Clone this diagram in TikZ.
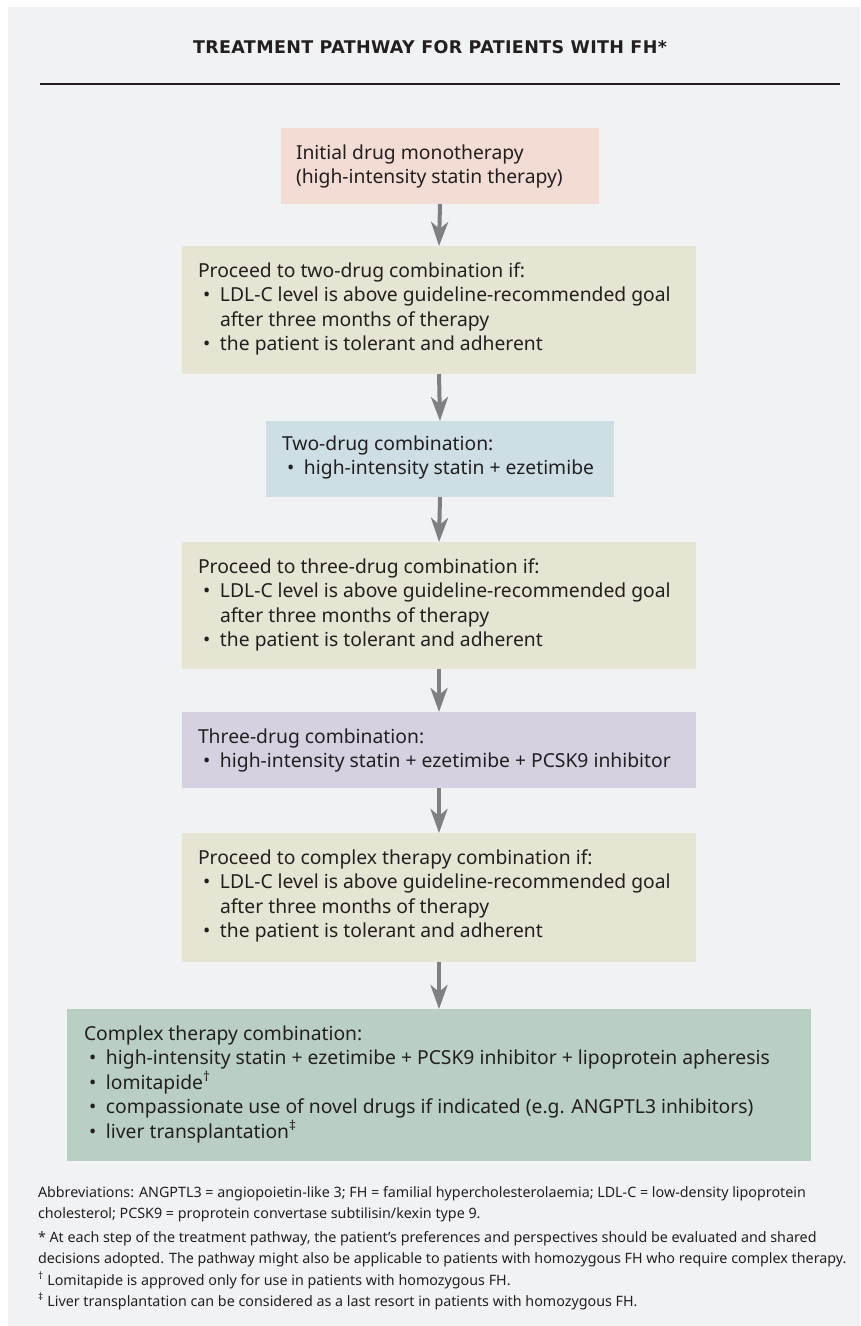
\documentclass[tikz,border=0pt]{standalone}
\usepackage{fontspec}
\setmainfont{Noto Sans}
\newfontfamily\headfont{DejaVu Sans Bold}[LetterSpace=2]
\usetikzlibrary{arrows.meta,calc}

\definecolor{pagebg}{HTML}{F1F2F4}
\definecolor{ink}{HTML}{231F20}
\definecolor{arrowgray}{HTML}{7F8084}
\definecolor{startfill}{HTML}{F2DCD4}
\definecolor{checkfill}{HTML}{E6E4D3}
\definecolor{twofill}{HTML}{CDDEE5}
\definecolor{threefill}{HTML}{D5D1E0}
\definecolor{complexfill}{HTML}{BACFC3}

% bullet with hanging indent for list lines inside the boxes
\newcommand\bul{\makebox[22pt][l]{\hspace*{5pt}\textbullet}}
\newcommand\cont{\hspace*{22pt}}

\tikzset{
  stage/.style={anchor=north west, inner sep=0pt, outer sep=0pt, draw=none},
  boxtext/.style={anchor=base west, inner sep=0pt, outer sep=0pt, text=ink,
    font=\fontsize{19.3}{24.5}\selectfont},
  flow/.style={draw=arrowgray, line width=4pt,
    -{Stealth[length=24pt, width=17pt, inset=7pt]}},
  note/.style={anchor=base west, inner sep=0pt, outer sep=0pt, text=ink,
    font=\fontsize{14.3}{21}\selectfont},
}

\begin{document}
\begin{tikzpicture}[x=1pt, y=-1pt]
  % page and panel
  \useasboundingbox (0,0) rectangle (860,1326);
  \fill[white] (0,0) rectangle (860,1326);
  \fill[pagebg] (8,7) rectangle (860,1326);

  % heading and rule
  \node[anchor=base, inner sep=0pt, text=ink,
        font=\headfont\fontsize{17.5}{20}\selectfont]
        (title) at (430,53) {TREATMENT PATHWAY FOR PATIENTS WITH FH*};
  \coordinate (ruleL) at (40,84);
  \coordinate (ruleR) at (840,84);
  \draw[ink, line width=1.3pt] (ruleL) -- (ruleR);

  % stages of the pathway
  \node[stage, fill=startfill,   minimum width=318pt, minimum height=76pt]  (s1) at (281,128) {};
  \node[stage, fill=checkfill,   minimum width=514pt, minimum height=128pt] (s2) at (182,246) {};
  \node[stage, fill=twofill,     minimum width=348pt, minimum height=76pt]  (s3) at (266,421) {};
  \node[stage, fill=checkfill,   minimum width=514pt, minimum height=127pt] (s4) at (182,542) {};
  \node[stage, fill=threefill,   minimum width=514pt, minimum height=76pt]  (s5) at (182,712) {};
  \node[stage, fill=checkfill,   minimum width=514pt, minimum height=129pt] (s6) at (182,833) {};
  \node[stage, fill=complexfill, minimum width=744pt, minimum height=152pt] (s7) at (67,1009) {};

  % texts of the stages
  \node[boxtext] (t1) at ($(s1.north west)+(15,31)$) {\parbox[t]{500pt}{\raggedright
    Initial drug monotherapy\\
    (high-intensity statin therapy)}};
  \node[boxtext] (t2) at ($(s2.north west)+(16,31)$) {\parbox[t]{500pt}{\raggedright
    Proceed to two-drug combination if:\\
    \bul LDL-C level is above guideline-recommended goal\\
    \cont after three months of therapy\\
    \bul the patient is tolerant and adherent}};
  \node[boxtext] (t3) at ($(s3.north west)+(16,29)$) {\parbox[t]{500pt}{\raggedright
    Two-drug combination:\\
    \bul high-intensity statin + ezetimibe}};
  \node[boxtext] (t4) at ($(s4.north west)+(16,31)$) {\parbox[t]{500pt}{\raggedright
    Proceed to three-drug combination if:\\
    \bul LDL-C level is above guideline-recommended goal\\
    \cont after three months of therapy\\
    \bul the patient is tolerant and adherent}};
  \node[boxtext] (t5) at ($(s5.north west)+(16,31)$) {\parbox[t]{500pt}{\raggedright
    Three-drug combination:\\
    \bul high-intensity statin + ezetimibe + PCSK9 inhibitor}};
  \node[boxtext] (t6) at ($(s6.north west)+(16,31)$) {\parbox[t]{500pt}{\raggedright
    Proceed to complex therapy combination if:\\
    \bul LDL-C level is above guideline-recommended goal\\
    \cont after three months of therapy\\
    \bul the patient is tolerant and adherent}};
  \node[boxtext] (t7) at ($(s7.north west)+(17,31)$) {\parbox[t]{720pt}{\raggedright
    Complex therapy combination:\\
    \bul high-intensity statin + ezetimibe + PCSK9 inhibitor + lipoprotein apheresis\\
    \bul lomitapide\textsuperscript{†}\\
    \bul compassionate use of novel drugs if indicated (e.g. ANGPTL3 inhibitors)\\
    \bul liver transplantation\textsuperscript{‡}}};

  % connectors
  \draw[flow] (s1.south) -- (s2.north);
  \draw[flow] (s2.south) -- (s3.north);
  \draw[flow] (s3.south) -- (s4.north);
  \draw[flow] (s4.south) -- (s5.north);
  \draw[flow] (s5.south) -- (s6.north);
  \draw[flow] (s6.south) -- (s7.north);

  % notes
  \node[note] (n1) at (38,1197) {\parbox[t]{820pt}{\raggedright
    Abbreviations: ANGPTL3 = angiopoietin-like 3; FH = familial hypercholesterolaemia; LDL-C = low-density lipoprotein\\
    cholesterol; PCSK9 = proprotein convertase subtilisin/kexin type 9.}};
  \node[note] (n2) at (38,1242) {\parbox[t]{820pt}{\raggedright
    * At each step of the treatment pathway, the patient’s preferences and perspectives should be evaluated and shared\\
    decisions adopted. The pathway might also be applicable to patients with homozygous FH who require complex therapy.}};
  \node[note] (n3) at (38,1285) {\textsuperscript{†} Lomitapide is approved only for use in patients with homozygous FH.};
  \node[note] (n4) at (38,1306) {\textsuperscript{‡} Liver transplantation can be considered as a last resort in patients with homozygous FH.};
\end{tikzpicture}
\end{document}
